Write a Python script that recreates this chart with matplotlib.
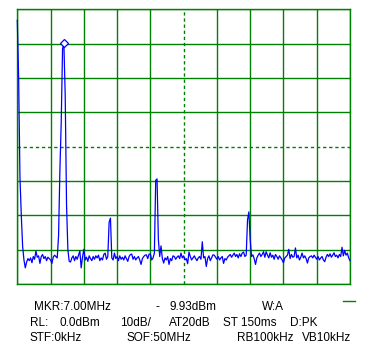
import numpy as np
import matplotlib
matplotlib.use("Agg")
import matplotlib.pyplot as plt

# spectrum analyser settings (from the screen)
span_start = 0.0     # MHz
span_stop = 50.0     # MHz
ref_level = 0.0      # dBm
db_per_div = 10
n_xdiv = 10
n_ydiv = 8

# trace, one point every 0.2 MHz
step_mhz = 0.2
trace_dbm = [
    -3.2, -20.0, -49.0, -60.0, -69.0, -73.0, -75.3, -73.6, -72.6, -73.2,
    -72.4, -73.8, -72.0, -72.8, -70.4, -72.2, -71.8, -74.0, -72.0, -71.4,
    -72.6, -72.0, -73.2, -72.2, -72.6, -73.0, -74.0, -72.2, -71.6, -72.0,
    -72.4, -66.0, -47.0, -33.0, -11.5, -9.93, -25.0, -57.0, -70.0, -73.4,
    -73.6, -72.4, -71.8, -73.2, -72.0, -72.8, -71.6, -70.4, -75.3, -72.2,
    -69.9, -73.0, -72.2, -73.4, -71.8, -72.6, -73.2, -72.0, -72.8, -71.8,
    -72.4, -71.6, -73.2, -72.4, -73.0, -71.4, -71.0, -72.8, -72.0, -62.0,
    -60.8, -72.4, -73.0, -71.0, -72.6, -72.0, -73.2, -71.8, -72.8, -72.2,
    -73.0, -71.8, -72.6, -73.4, -72.0, -71.4, -71.3, -72.8, -72.0, -73.0,
    -72.4, -72.0, -73.0, -74.3, -72.6, -72.0, -71.6, -71.5, -72.6, -71.3,
    -71.3, -73.0, -72.4, -71.0, -49.8, -49.4, -67.0, -72.0, -68.9, -72.6,
    -73.9, -72.4, -73.0, -72.0, -74.3, -72.6, -73.2, -71.8, -72.0, -72.8,
    -72.2, -71.8, -72.6, -71.0, -72.4, -71.8, -73.0, -72.6, -74.1, -70.7,
    -72.0, -73.0, -72.4, -71.8, -72.6, -73.2, -72.4, -72.0, -72.8, -67.7,
    -72.4, -72.0, -74.9, -72.6, -71.8, -73.2, -72.4, -71.5, -71.6, -72.2,
    -72.8, -72.0, -73.0, -72.4, -72.0, -74.0, -72.6, -73.0, -72.2, -71.8,
    -71.4, -72.2, -71.6, -71.0, -72.0, -71.4, -72.4, -71.2, -72.0, -71.0,
    -70.7, -72.0, -71.6, -61.3, -59.0, -67.0, -72.0, -71.5, -72.6, -74.3,
    -72.4, -71.6, -71.0, -72.0, -71.4, -70.6, -72.2, -70.6, -71.6, -72.4,
    -70.9, -72.2, -71.6, -72.8, -71.4, -72.0, -72.8, -71.8, -72.4, -73.0,
    -73.8, -72.4, -72.0, -71.6, -69.9, -72.6, -71.4, -72.2, -72.0, -69.5,
    -72.4, -71.6, -73.0, -72.2, -71.0, -72.4, -71.8, -72.6, -73.9, -72.4,
    -72.0, -71.8, -72.4, -71.6, -72.2, -72.8, -72.0, -73.0, -72.4, -72.0,
    -73.0, -73.5, -72.2, -71.4, -72.0, -71.2, -72.2, -71.6, -70.9, -72.0,
    -71.6, -72.4, -71.4, -72.0, -69.3, -71.8, -70.2, -71.6, -71.0, -72.4,
    -73.2,
]

marker_mhz = 7.00
marker_dbm = -9.93

# status lines under the screen: (text, x px, baseline y px)
status_texts = [
    ("MKR:7.00MHz", 34, 310.5),
    ("-", 155, 310.5),
    ("9.93dBm", 169, 310.5),
    ("W:A", 262, 310.5),
    ("RL:", 30, 326),
    ("0.0dBm", 59, 326),
    ("10dB/", 120.5, 326),
    ("AT20dB", 169, 326),
    ("ST 150ms", 223, 326),
    ("D:PK", 290, 326),
    ("STF:0kHz", 30, 341),
    ("SOF:50MHz", 126.5, 341),
    ("RB100kHz", 236.5, 341),
    ("VB10kHz", 301.5, 341),
]

W, H = 370, 350
plt.rcParams["lines.scale_dashes"] = False
fig = plt.figure(figsize=(W / 100, H / 100), dpi=100, facecolor="white")
ax = fig.add_axes([17.3 / W, 1 - 284 / H, (350 - 17.3) / W, (284 - 9.3) / H])

freqs = np.arange(len(trace_dbm)) * step_mhz
grid_green = "#008000"

ax.set_xlim(span_start, span_stop)
ax.set_ylim(ref_level - n_ydiv * db_per_div, ref_level)
ax.set_xticks(np.linspace(span_start, span_stop, n_xdiv + 1))
ax.set_yticks(np.arange(ref_level - n_ydiv * db_per_div, ref_level + 1, db_per_div))
ax.tick_params(length=0, labelbottom=False, labelleft=False)
ax.grid(True, color=grid_green, lw=1.0)
for sp in ax.spines.values():
    sp.set_color(grid_green)
    sp.set_linewidth(1.0)

# centre lines are dashed
ax.xaxis.get_gridlines()[n_xdiv // 2].set_linestyle((0, (2.4, 2.0)))
ax.yaxis.get_gridlines()[n_ydiv // 2].set_linestyle((0, (2.4, 2.0)))

ax.plot(freqs, trace_dbm, color="blue", lw=0.9, zorder=4, clip_on=False)
ax.plot([marker_mhz], [marker_dbm], marker="D", ms=3.6, mfc="white",
        mec="blue", mew=0.9, zorder=5, ls="none")

for txt, xp, yp in status_texts:
    fig.text(xp / W, 1 - yp / H, txt, fontsize=8.5, family="Liberation Sans",
             ha="left", va="baseline", color="black")

# short green bar at the right of the status area
fig.add_artist(plt.Line2D([342.7 / W, 355 / W], [1 - 300.7 / H, 1 - 300.7 / H],
                          color=grid_green, lw=1.0))

fig.savefig("out.png", dpi=100, facecolor="white")
